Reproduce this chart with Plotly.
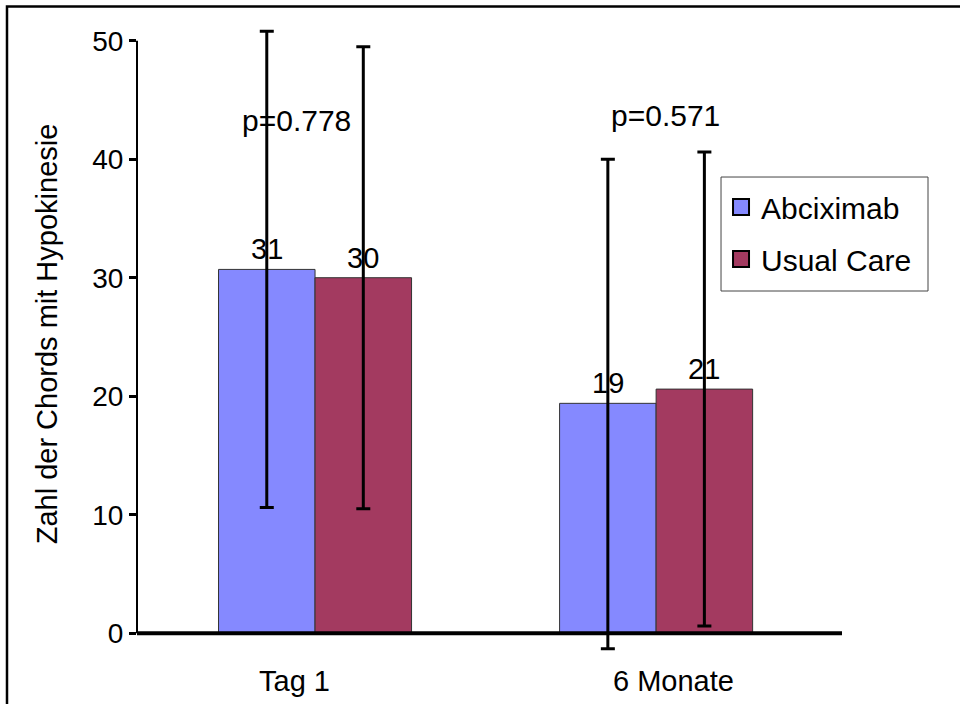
import plotly.graph_objects as go

# Chart data
categories = ["Tag 1", "6 Monate"]
series_names = ["Abciximab", "Usual Care"]
abciximab = [30.7, 19.4]
usual_care = [30.0, 20.6]
abciximab_err_plus = [20.1, 20.6]
abciximab_err_minus = [20.1, 20.7]
usual_err_plus = [19.5, 20.0]
usual_err_minus = [19.5, 20.0]
p_values = ["p=0.778", "p=0.571"]
y_ticks = [0, 10, 20, 30, 40, 50]

colors = ["#8589FF", "#A33A60"]
FONT = "Liberation Sans, Arial, sans-serif"
BARGAP = 0.434
half_bar = (1 - BARGAP) / 4  # centre offset of each bar within its group

fig = go.Figure()

series = [
    (series_names[0], abciximab, abciximab_err_plus, abciximab_err_minus, colors[0], -half_bar),
    (series_names[1], usual_care, usual_err_plus, usual_err_minus, colors[1], half_bar),
]

for name, vals, ep, em, col, off in series:
    fig.add_trace(go.Bar(
        x=categories, y=vals, name=name, showlegend=False,
        marker=dict(color=col, line=dict(color="#333333", width=1)),
        error_y=dict(type="data", symmetric=False, array=ep, arrayminus=em,
                     color="black", thickness=3, width=7),
    ))
    # legend swatch
    fig.add_trace(go.Scatter(
        x=[None], y=[None], mode="markers", name=name, legendgroup=name,
        marker=dict(symbol="square", size=20, color=col,
                    line=dict(color="black", width=2)),
    ))
    # value labels above each bar
    for i, v in enumerate(vals):
        fig.add_annotation(x=i + off, y=v, text=f"{v:.0f}", showarrow=False,
                           yanchor="bottom", yshift=2,
                           font=dict(size=29, color="black", family=FONT))

# category labels under the axis
for i, cat in enumerate(categories):
    fig.add_annotation(x=i, y=0, text=cat, showarrow=False, yanchor="top",
                       xshift=[-21, 17][i], yshift=-30,
                       font=dict(size=29, color="black", family=FONT))

# p-value annotations
for i, txt in enumerate(p_values):
    fig.add_annotation(x=i, y=43.3, text=txt, showarrow=False,
                       xshift=[-19, 9][i], yshift=[0, 5][i],
                       font=dict(size=30, color="black", family=FONT))

# axis lines
fig.add_shape(type="line", xref="paper", yref="y", x0=0, x1=0, y0=0, y1=50,
              line=dict(color="black", width=2))
fig.add_shape(type="line", xref="paper", yref="y", x0=0, x1=1, y0=0, y1=0,
              line=dict(color="black", width=4))
# legend frame
fig.add_shape(type="rect", xref="paper", yref="paper",
              x0=0.8284, x1=1.122, y0=0.5678, y1=0.7476,
              fillcolor="white", line=dict(color="#444444", width=1))
# outer frame
fig.add_shape(type="rect", xref="paper", yref="paper",
              x0=-0.1844, x1=1.2, y0=-0.12, y1=1.0164,
              line=dict(color="black", width=2.5))

fig.update_layout(
    width=960, height=704,
    margin=dict(l=137, r=118, t=17, b=53),
    paper_bgcolor="white", plot_bgcolor="white",
    font=dict(family=FONT, color="black"),
    barmode="group", bargap=BARGAP, bargroupgap=0,
    xaxis=dict(type="category", range=[-0.522, 1.545], showline=False,
               showgrid=False, zeroline=False, ticks="",
               showticklabels=False, automargin=False),
    yaxis=dict(range=[-1.5, 52], tickvals=y_ticks, showgrid=False,
               zeroline=False, showline=False, ticks="outside", ticklen=7,
               tickwidth=3, tickcolor="black", tickfont=dict(size=28),
               automargin=False,
               title=dict(text="Zahl der Chords mit Hypokinesie",
                          font=dict(size=29), standoff=26)),
    legend=dict(x=0.8284, y=0.7413, xanchor="left", yanchor="top",
                bgcolor="rgba(0,0,0,0)", borderwidth=0,
                font=dict(size=30, color="black", family=FONT),
                traceorder="grouped", tracegroupgap=10,
                itemsizing="trace"),
)

fig.write_html("out.html")
